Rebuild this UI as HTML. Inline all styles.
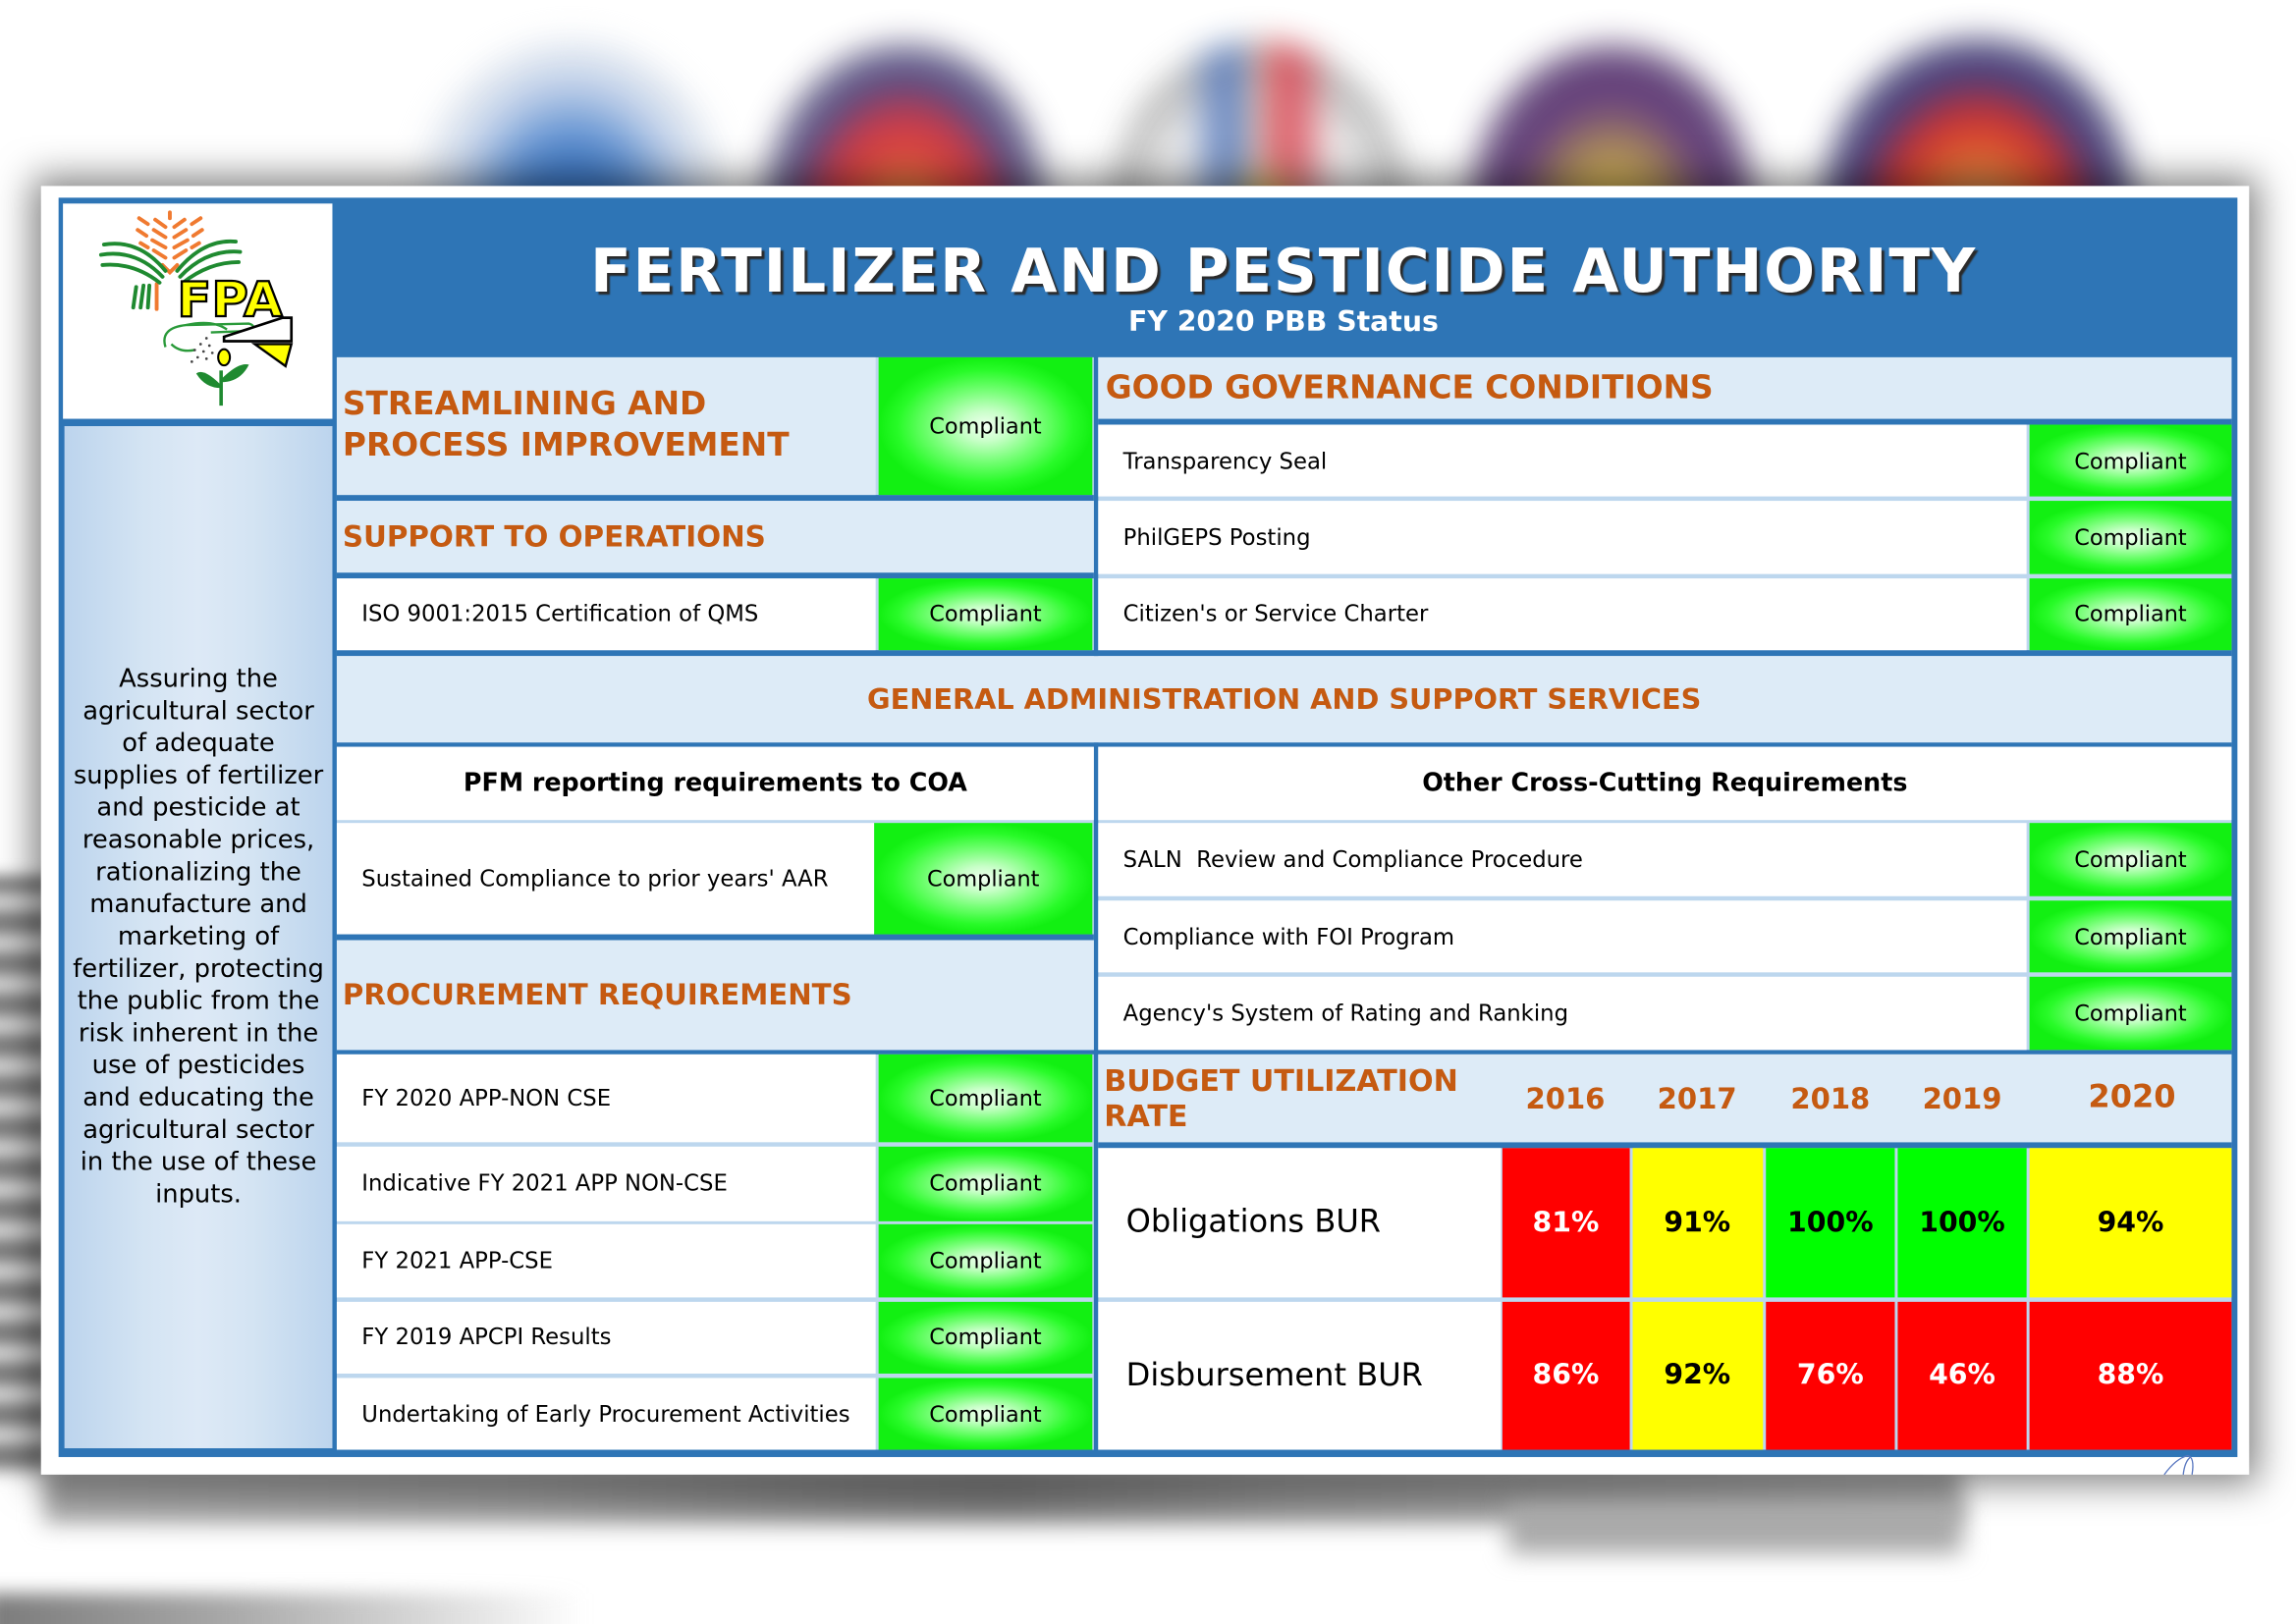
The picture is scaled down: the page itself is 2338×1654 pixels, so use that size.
<!DOCTYPE html>
<html><head><meta charset="utf-8">
<style>
html,body{margin:0;padding:0;}
body{width:2338px;height:1654px;overflow:hidden;background:#fff;position:relative;}
#r{position:absolute;left:0;top:0;width:1568px;height:1109px;transform:scale(1.49107,1.49143);transform-origin:0 0;font-family:"DejaVu Sans","Liberation Sans",sans-serif;overflow:hidden;background:#fff;}
.a{position:absolute;}
.logo{position:absolute;border-radius:50%;filter:blur(11px);opacity:0.95;}
.c{position:absolute;display:flex;align-items:center;box-sizing:border-box;overflow:hidden;white-space:nowrap;color:#000;}
.w{background:#fff;}
.lb{background:#ddebf7;}
.g{background:radial-gradient(closest-side,#f2fff2 0%,#c8ffc8 22%,#74ff74 52%,#28fb28 82%,#12f012 100%);justify-content:center;font-size:15px;}
.t{font-size:15.25px;padding-left:17px;}
.s{color:#c55a11;font-weight:bold;padding-left:4px;}
.bl{position:absolute;background:#2e75b6;}
.red{background:#ff0000;color:#fff;}
.yel{background:#ffff00;color:#000;}
.grn{background:#00ff00;color:#000;}
.p{justify-content:center;font-weight:bold;font-size:19px;}
.yr{position:absolute;color:#c55a11;font-weight:bold;font-size:19.5px;text-align:center;width:90px;line-height:24px;}
</style></head>
<body>
<div id="r">
  <!-- blurred logos in background -->
  <div class="logo" style="left:288px;top:28px;width:205px;height:220px;background:radial-gradient(ellipse at 50% 60%,#3470bf 0,#3470bf 24%,#6393d2 38%,#bccde8 54%,#e2e8f0 68%,#c9d1de 80%,rgba(255,255,255,0) 100%);"></div>
  <div class="logo" style="left:522px;top:30px;width:192px;height:215px;background:radial-gradient(ellipse at 50% 62%,#efb23c 0,#e98c38 14%,#de4234 30%,#c52e42 44%,#4a4480 58%,#747090 70%,#b2b2bc 82%,rgba(255,255,255,0) 100%);"></div>
  <div class="logo" style="left:760px;top:28px;width:200px;height:220px;background:radial-gradient(circle at 52% 50%,#e8c860 0,#e8c860 7%,rgba(255,255,255,0) 16%),linear-gradient(90deg,rgba(255,255,255,0) 26%,rgba(70,108,182,0.8) 35%,rgba(70,108,182,0.8) 44%,rgba(240,225,170,0.6) 49%,rgba(215,55,70,0.8) 54%,rgba(215,55,70,0.8) 64%,rgba(255,255,255,0) 74%),radial-gradient(circle,#f2f2f2 0,#ededed 48%,#b2b2b2 64%,#c8c8c8 80%,rgba(255,255,255,0) 100%);"></div>
  <div class="logo" style="left:1004px;top:30px;width:194px;height:215px;background:radial-gradient(ellipse at 50% 60%,#d9b94e 0,#d2b050 20%,#9c7a56 34%,#633a7a 50%,#573470 60%,#8c829c 75%,#c2bec8 86%,rgba(255,255,255,0) 100%);"></div>
  <div class="logo" style="left:1245px;top:26px;width:212px;height:222px;background:radial-gradient(ellipse at 50% 60%,#c4ac80 0,#d88c48 14%,#e06428 26%,#cc2626 42%,#3c3478 58%,#4c487a 66%,#9c9caa 80%,rgba(255,255,255,0) 100%);"></div>

  <!-- blurred text at left edge -->
  <div class="a" style="left:-20px;top:598px;width:54px;height:410px;background:repeating-linear-gradient(180deg,#767676 0,#767676 8px,#d4d4d4 15px,#e6e6e6 20px,#767676 28px);filter:blur(5px);"></div>
  <!-- blurred text below card -->
  <div class="a" style="left:30px;top:1002px;width:1310px;height:38px;background:linear-gradient(90deg,#a2a2a2 0%,#929292 25%,#7a7a7a 42%,#747474 50%,#8a8a8a 65%,#a4a4a4 100%);filter:blur(8px);"></div>
  <div class="a" style="left:1030px;top:1025px;width:310px;height:36px;background:#aaaaaa;filter:blur(8px);"></div>
  <div class="a" style="left:-10px;top:1088px;width:410px;height:40px;background:linear-gradient(90deg,#7a7a7a 0%,#a8a8a8 40%,rgba(255,255,255,0) 100%);filter:blur(6px);"></div>

  <!-- card -->
  <div class="a" style="left:28px;top:127px;width:1508px;height:880px;background:#fff;box-shadow:0 0 24px 6px rgba(0,0,0,0.5);"></div>

  <!-- blue frame -->
  <div class="bl" style="left:40px;top:135px;width:1488px;height:860px;"></div>

  <!-- logo box -->
  <div class="a" style="left:43px;top:139px;width:184px;height:147px;background:#fff;">
    <svg width="184" height="147" viewBox="0 0 184 147" xmlns="http://www.w3.org/2000/svg">
      <g stroke="#f07a30" stroke-width="2.6" stroke-linecap="round" fill="none">
        <line x1="73" y1="6" x2="73" y2="10"/>
        <line x1="70" y1="16" x2="63" y2="11"/><line x1="76" y1="16" x2="83" y2="11"/>
        <line x1="70" y1="23" x2="62" y2="18"/><line x1="76" y1="23" x2="84" y2="18"/>
        <line x1="70" y1="30" x2="61" y2="25"/><line x1="76" y1="30" x2="85" y2="25"/>
        <line x1="70" y1="37" x2="62" y2="32"/><line x1="76" y1="37" x2="84" y2="32"/>
        <line x1="58" y1="14" x2="52" y2="10"/><line x1="88" y1="14" x2="94" y2="10"/>
        <line x1="57" y1="22" x2="51" y2="18"/><line x1="89" y1="22" x2="95" y2="18"/>
        <line x1="58" y1="30" x2="53" y2="27"/><line x1="88" y1="30" x2="93" y2="27"/>
        <path d="M68,42 L73,47 L78,42"/>
        <line x1="64" y1="55" x2="64" y2="72"/>
      </g>
      <g stroke="#1f8a30" stroke-width="2.6" stroke-linecap="round" fill="none">
        <path d="M28,28 Q52,24 70,46"/>
        <path d="M26,35 Q50,31 68,50"/>
        <path d="M27,42 Q48,40 66,54"/>
        <path d="M118,26 Q96,24 78,46"/>
        <path d="M121,33 Q98,31 80,50"/>
        <path d="M120,40 Q100,40 82,54"/>
        <line x1="50" y1="57" x2="48" y2="71"/>
        <line x1="55" y1="56" x2="53" y2="71"/>
        <line x1="59" y1="56" x2="58" y2="71"/>
      </g>
      <text x="78" y="77" font-family="DejaVu Sans, Liberation Sans, sans-serif" font-weight="bold" font-size="33" fill="#ffff00" stroke="#000" stroke-width="1.5" textLength="72" lengthAdjust="spacingAndGlyphs">FPA</text>
      <path d="M70,98 Q66,85 84,83 L127,82 Q133,84 127,87 L101,88 M84,83 Q102,79 112,86 M74,96 Q80,102 90,100" stroke="#2a9a3a" stroke-width="1.6" fill="none"/>
      <polygon points="110,91 150,78 156,78 156,94 110,94" fill="#fff" stroke="#000" stroke-width="1.8"/>
      <polygon points="131,96 156,96 152,111" fill="#ffff00" stroke="#000" stroke-width="1.6"/>
      <g fill="#444">
        <circle cx="98" cy="92" r="0.9"/><circle cx="94" cy="96" r="0.9"/><circle cx="100" cy="97" r="0.9"/>
        <circle cx="90" cy="100" r="0.9"/><circle cx="96" cy="101" r="0.9"/><circle cx="102" cy="102" r="0.9"/>
        <circle cx="92" cy="105" r="0.9"/><circle cx="98" cy="106" r="0.9"/><circle cx="88" cy="108" r="0.9"/>
      </g>
      <ellipse cx="110" cy="105" rx="4" ry="5.5" fill="#ffff00" stroke="#000" stroke-width="1.4"/>
      <path d="M108,138 L108,114" stroke="#1f8a30" stroke-width="2.4"/>
      <path d="M108,124 Q96,112 91,116 Q97,126 108,126 Z" fill="#1f8a30"/>
      <path d="M108,120 Q120,108 127,110 Q121,122 108,122 Z" fill="#1f8a30"/>
    </svg>
  </div>

  <!-- left panel -->
  <div class="a" style="left:44px;top:291px;width:183px;height:698px;background:linear-gradient(90deg,#bcd4ed 0%,#d4e4f3 30%,#dde9f6 50%,#d4e4f3 70%,#bcd4ed 100%);"></div>
  <div class="a" style="left:44px;top:453px;width:183px;text-align:center;font-size:17.3px;line-height:22px;color:#000;white-space:nowrap;">Assuring the<br>agricultural sector<br>of adequate<br>supplies of fertilizer<br>and pesticide at<br>reasonable prices,<br>rationalizing the<br>manufacture and<br>marketing of<br>fertilizer, protecting<br>the public from the<br>risk inherent in the<br>use of pesticides<br>and educating the<br>agricultural sector<br>in the use of these<br>inputs.</div>

  <!-- header title -->
  <div class="a" style="left:227px;top:160px;width:1299px;text-align:center;color:#fff;font-weight:bold;font-size:41px;line-height:50px;letter-spacing:1.2px;text-shadow:2px 2px 1px #2a2a2a;white-space:nowrap;">FERTILIZER AND PESTICIDE AUTHORITY</div>
  <div class="a" style="left:227px;top:208px;width:1299px;text-align:center;color:#fff;font-weight:bold;font-size:19px;line-height:24px;white-space:nowrap;">FY 2020 PBB Status</div>

  <!-- light separator backgrounds -->
  <div class="a" style="left:230px;top:244px;width:517px;height:746px;background:#bdd7ee;"></div>
  <div class="a" style="left:750px;top:244px;width:774px;height:746px;background:#bdd7ee;"></div>

  <!-- blue separators -->
  <div class="bl" style="left:230px;top:338px;width:517px;height:4px;"></div>
  <div class="bl" style="left:230px;top:391px;width:517px;height:3.5px;"></div>
  <div class="bl" style="left:230px;top:637.5px;width:517px;height:4px;"></div>
  <div class="bl" style="left:230px;top:444px;width:1294px;height:3.5px;"></div>
  <div class="bl" style="left:230px;top:506.5px;width:1294px;height:3px;"></div>
  <div class="bl" style="left:230px;top:716.5px;width:1294px;height:3.5px;"></div>
  <div class="bl" style="left:750px;top:286px;width:774px;height:4px;"></div>
  <div class="bl" style="left:750px;top:780px;width:774px;height:3.5px;"></div>

  <!-- LEFT COLUMN -->
  <div class="c lb s" style="left:230px;top:244px;width:368px;height:94px;font-size:22px;line-height:28px;white-space:normal;"><div>STREAMLINING AND<br>PROCESS IMPROVEMENT</div></div>
  <div class="c g" style="left:600px;top:244px;width:146px;height:94px;">Compliant</div>

  <div class="c lb s" style="left:230px;top:342px;width:517px;height:49px;font-size:19.7px;">SUPPORT TO OPERATIONS</div>

  <div class="c w t" style="left:230px;top:394.5px;width:368px;height:49.5px;">ISO 9001:2015 Certification of QMS</div>
  <div class="c g" style="left:600px;top:394.5px;width:146px;height:49.5px;">Compliant</div>

  <div class="c lb s" style="left:230px;top:447.5px;width:1294px;height:59px;font-size:19.3px;justify-content:center;padding-left:0;">GENERAL ADMINISTRATION AND SUPPORT SERVICES</div>

  <div class="c w" style="left:230px;top:509.5px;width:517px;height:50.5px;justify-content:center;font-weight:bold;font-size:17px;">PFM reporting requirements to COA</div>

  <div class="c w t" style="left:230px;top:562px;width:367px;height:75.5px;">Sustained Compliance to prior years' AAR</div>
  <div class="c g" style="left:597px;top:562px;width:149px;height:75.5px;">Compliant</div>

  <div class="c lb s" style="left:230px;top:641.5px;width:517px;height:75px;font-size:19.6px;">PROCUREMENT REQUIREMENTS</div>

  <div class="c w t" style="left:230px;top:720px;width:368px;height:60px;">FY 2020 APP-NON CSE</div>
  <div class="c g" style="left:600px;top:720px;width:146px;height:60px;">Compliant</div>

  <div class="c w t" style="left:230px;top:783px;width:368px;height:50.5px;">Indicative FY 2021 APP NON-CSE</div>
  <div class="c g" style="left:600px;top:783px;width:146px;height:50.5px;">Compliant</div>

  <div class="c w t" style="left:230px;top:836px;width:368px;height:50.3px;">FY 2021 APP-CSE</div>
  <div class="c g" style="left:600px;top:836px;width:146px;height:50.3px;">Compliant</div>

  <div class="c w t" style="left:230px;top:888.6px;width:368px;height:49.7px;">FY 2019 APCPI Results</div>
  <div class="c g" style="left:600px;top:888.6px;width:146px;height:49.7px;">Compliant</div>

  <div class="c w t" style="left:230px;top:941px;width:368px;height:49px;">Undertaking of Early Procurement Activities</div>
  <div class="c g" style="left:600px;top:941px;width:146px;height:49px;">Compliant</div>

  <!-- RIGHT COLUMN -->
  <div class="c lb s" style="left:750px;top:244px;width:774px;height:42px;font-size:22px;padding-left:5px;">GOOD GOVERNANCE CONDITIONS</div>

  <div class="c w t" style="left:750px;top:290px;width:634px;height:49px;">Transparency Seal</div>
  <div class="c g" style="left:1386px;top:290px;width:138px;height:49px;">Compliant</div>

  <div class="c w t" style="left:750px;top:342px;width:634px;height:50px;">PhilGEPS Posting</div>
  <div class="c g" style="left:1386px;top:342px;width:138px;height:50px;">Compliant</div>

  <div class="c w t" style="left:750px;top:394.5px;width:634px;height:49.5px;">Citizen's or Service Charter</div>
  <div class="c g" style="left:1386px;top:394.5px;width:138px;height:49.5px;">Compliant</div>

  <div class="c w" style="left:750px;top:509.5px;width:774px;height:50.5px;justify-content:center;font-weight:bold;font-size:17px;">Other Cross-Cutting Requirements</div>

  <div class="c w t" style="left:750px;top:562px;width:634px;height:50px;">SALN&nbsp; Review and Compliance Procedure</div>
  <div class="c g" style="left:1386px;top:562px;width:138px;height:50px;">Compliant</div>

  <div class="c w t" style="left:750px;top:615px;width:634px;height:49px;">Compliance with FOI Program</div>
  <div class="c g" style="left:1386px;top:615px;width:138px;height:49px;">Compliant</div>

  <div class="c w t" style="left:750px;top:667px;width:634px;height:49.5px;">Agency's System of Rating and Ranking</div>
  <div class="c g" style="left:1386px;top:667px;width:138px;height:49.5px;">Compliant</div>

  <!-- BUR header -->
  <div class="c lb s" style="left:750px;top:720px;width:774px;height:60px;font-size:20.2px;line-height:24px;white-space:normal;"><div>BUDGET UTILIZATION<br>RATE</div></div>
  <div class="yr" style="left:1024px;top:739px;">2016</div>
  <div class="yr" style="left:1114px;top:739px;">2017</div>
  <div class="yr" style="left:1205px;top:739px;">2018</div>
  <div class="yr" style="left:1295px;top:739px;">2019</div>
  <div class="yr" style="left:1400px;top:738px;width:112px;font-size:21.5px;">2020</div>

  <!-- Obligations -->
  <div class="c w" style="left:750px;top:783.5px;width:275px;height:102.8px;font-size:21.5px;padding-left:19px;">Obligations BUR</div>
  <div class="c red p" style="left:1026px;top:783.5px;width:86.7px;height:102.8px;">81%</div>
  <div class="c yel p" style="left:1114.6px;top:783.5px;width:89px;height:102.8px;">91%</div>
  <div class="c grn p" style="left:1206.3px;top:783.5px;width:87.4px;height:102.8px;">100%</div>
  <div class="c grn p" style="left:1296.4px;top:783.5px;width:87.2px;height:102.8px;">100%</div>
  <div class="c yel p" style="left:1386px;top:783.5px;width:138px;height:102.8px;">94%</div>

  <!-- Disbursement -->
  <div class="c w" style="left:750px;top:888.6px;width:275px;height:101.4px;font-size:21.5px;padding-left:19px;">Disbursement BUR</div>
  <div class="c red p" style="left:1026px;top:888.6px;width:86.7px;height:101.4px;">86%</div>
  <div class="c yel p" style="left:1114.6px;top:888.6px;width:89px;height:101.4px;">92%</div>
  <div class="c red p" style="left:1206.3px;top:888.6px;width:87.4px;height:101.4px;">76%</div>
  <div class="c red p" style="left:1296.4px;top:888.6px;width:87.2px;height:101.4px;">46%</div>
  <div class="c red p" style="left:1386px;top:888.6px;width:138px;height:101.4px;">88%</div>

  <!-- small signature mark -->
  <svg class="a" style="left:1472px;top:992px;" width="44" height="16" viewBox="0 0 44 16" xmlns="http://www.w3.org/2000/svg">
    <path d="M6,15 Q14,4 22,2 Q27,3 25,15 M19,15 Q20,6 24,3" stroke="#5a78c0" stroke-width="0.9" fill="none"/>
  </svg>
</div>
</body></html>
